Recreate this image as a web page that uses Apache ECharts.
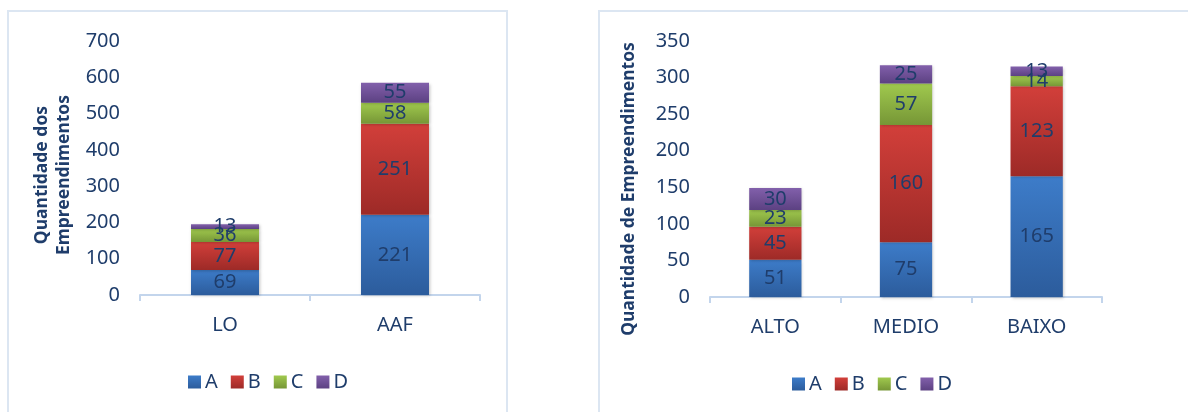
<!DOCTYPE html>
<html>
<head>
<meta charset="utf-8">
<script src="https://cdn.jsdelivr.net/npm/echarts@6/dist/echarts.min.js"></script>
<style>
  html, body { margin: 0; padding: 0; background: #ffffff; width: 1188px; height: 412px; overflow: hidden; }
  .panel { position: absolute; border: 2px solid #dce6f2; box-sizing: border-box; background: #fff; }
  #left { left: 7px; top: 10px; width: 501px; height: 420px; }
  #right { left: 598px; top: 10px; width: 620px; height: 420px; }
</style>
</head>
<body>
<div class="panel" id="left"></div>
<div class="panel" id="right"></div>
<script>
// Left chart: licensing type
const leftCategories = ['LO', 'AAF'];
const leftA = [69, 221];
const leftB = [77, 251];
const leftC = [36, 58];
const leftD = [13, 55];

// Right chart: impact level
const rightCategories = ['ALTO', 'MEDIO', 'BAIXO'];
const rightA = [51, 75, 165];
const rightB = [45, 160, 123];
const rightC = [23, 57, 14];
const rightD = [30, 25, 13];

const seriesNames = ['A', 'B', 'C', 'D'];

const FONT = "'Noto Sans'";
const TEXT = '#1f3d6b';
const SIZE = 20;

function grad(top, bottom) {
  return new echarts.graphic.LinearGradient(0, 0, 0, 1, [
    { offset: 0, color: top },
    { offset: 1, color: bottom }
  ]);
}
const fills = [
  grad('#3d7cc9', '#2c5c9c'),
  grad('#d23f3a', '#9d2a27'),
  grad('#a0c94e', '#769636'),
  grad('#8260ab', '#5c4182')
];
const legendColors = ['#3a74bd', '#c23833', '#8fb843', '#6f519a'];

function buildSeries(arrays) {
  return arrays.map((data, i) => ({
    name: seriesNames[i],
    type: 'bar',
    stack: 'total',
    barWidth: '40%',
    data: data,
    color: legendColors[i],
    itemStyle: {
      color: fills[i],
      shadowColor: 'rgba(0,0,0,0.25)',
      shadowBlur: 3,
      shadowOffsetX: 1,
      shadowOffsetY: 1
    },
    label: {
      show: true,
      position: 'inside',
      color: TEXT,
      fontFamily: FONT,
      fontSize: SIZE
    }
  }));
}

function buildOption(cfg) {
  return {
    animation: false,
    textStyle: { fontFamily: FONT },
    legend: {
      data: seriesNames,
      top: cfg.legendTop,
      left: cfg.legendLeft,
      itemWidth: 13,
      itemHeight: 13,
      itemGap: 13,
      icon: 'rect',
      textStyle: { color: TEXT, fontSize: SIZE, fontFamily: FONT, padding: [0, 0, 0, -1] }
    },
    grid: Object.assign({ outerBoundsMode: 'none', containLabel: false }, cfg.grid),
    xAxis: {
      type: 'category',
      data: cfg.categories,
      axisLine: { lineStyle: { color: '#c3d5ec', width: 2 } },
      axisTick: { show: true, length: 6, lineStyle: { color: '#c3d5ec', width: 2 } },
      axisLabel: { color: TEXT, fontSize: SIZE, fontFamily: FONT, margin: 20 }
    },
    yAxis: {
      type: 'value',
      min: 0,
      max: cfg.max,
      interval: cfg.interval,
      splitLine: { show: false },
      axisLine: { show: false },
      axisTick: { show: false },
      axisLabel: { color: TEXT, fontSize: SIZE, fontFamily: FONT, margin: 20 },
      name: cfg.yName,
      nameLocation: 'middle',
      nameGap: cfg.nameGap,
      nameRotate: 90,
      nameTextStyle: {
        color: TEXT,
        fontSize: 17.5,
        fontWeight: 'bold',
        fontFamily: FONT,
        lineHeight: 22,
        padding: cfg.namePadding
      }
    },
    series: buildSeries(cfg.data)
  };
}

const leftChart = echarts.init(document.getElementById('left'), null, { renderer: 'canvas' });
leftChart.setOption(buildOption({
  categories: leftCategories,
  data: [leftA, leftB, leftC, leftD],
  max: 700,
  interval: 100,
  grid: { left: 131, top: 29, width: 340, height: 254 },
  yName: 'Quantidade dos\nEmpreendimentos',
  nameGap: 57,
  namePadding: [0, 14, 0, 0],
  legendTop: 355,
  legendLeft: 174
}));

const rightChart = echarts.init(document.getElementById('right'), null, { renderer: 'canvas' });
rightChart.setOption(buildOption({
  categories: rightCategories,
  data: [rightA, rightB, rightC, rightD],
  max: 350,
  interval: 50,
  grid: { left: 110, top: 29, width: 392, height: 256 },
  yName: 'Quantidade de Empreendimentos',
  nameGap: 70,
  namePadding: [0, 40, 0, 0],
  legendTop: 357,
  legendLeft: 187
}));
</script>
</body>
</html>
